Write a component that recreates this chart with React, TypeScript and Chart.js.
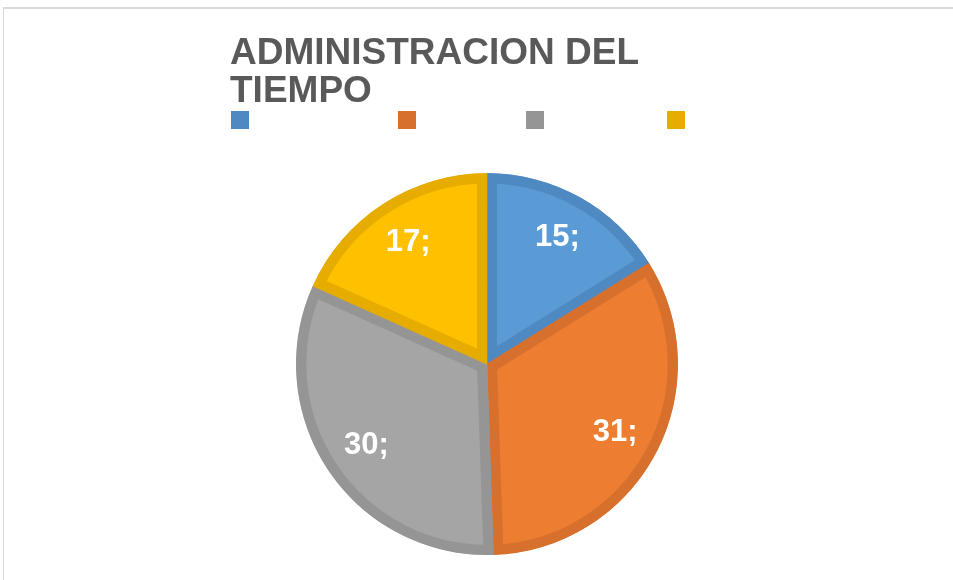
import React, { useEffect, useRef } from 'react';
import { Chart, registerables } from 'chart.js';

Chart.register(...registerables);

// ---- data ----
const CATEGORIES = ['', '', '', ''];
const VALUES = [15, 31, 30, 17];
const TITLE_LINES = ['ADMINISTRACION DEL', 'TIEMPO'];
const LABEL_SUFFIX = ';';

// ---- styles ----
const FILL_COLORS = ['#5B9BD5', '#ED7D31', '#A5A5A5', '#FFC000'];
const BORDER_COLORS = ['#4F89C2', '#D6702C', '#959595', '#E6AC00'];
const FONT = "'Liberation Sans', Arial, sans-serif";

// custom legend: blank labels, swatches only
const LEGEND_SWATCH = 18;
const LEGEND_OFFSETS = [0, 167, 295, 436];
const LEGEND_TOP = 111;

const swatchLegend = {
  id: 'swatchLegend',
  afterDraw(chart: any) {
    const ctx = chart.ctx;
    const left = chart.titleBlock ? chart.titleBlock.left + 1 : chart.chartArea.left;
    ctx.save();
    CATEGORIES.forEach((_, i) => {
      ctx.fillStyle = BORDER_COLORS[i];
      ctx.fillRect(left + LEGEND_OFFSETS[i], LEGEND_TOP, LEGEND_SWATCH, LEGEND_SWATCH);
    });
    ctx.restore();
  },
};

const sliceLabels = {
  id: 'sliceLabels',
  afterDatasetsDraw(chart: any) {
    const ctx = chart.ctx;
    const meta = chart.getDatasetMeta(0);
    ctx.save();
    ctx.fillStyle = '#FFFFFF';
    ctx.font = `bold 31px ${FONT}`;
    ctx.textAlign = 'center';
    ctx.textBaseline = 'middle';
    meta.data.forEach((arc: any, i: number) => {
      const { x, y, startAngle, endAngle, outerRadius } = arc.getProps(
        ['x', 'y', 'startAngle', 'endAngle', 'outerRadius'],
        true
      );
      const mid = (startAngle + endAngle) / 2;
      const r = outerRadius * 0.76;
      ctx.fillText(`${VALUES[i]}${LABEL_SUFFIX}`, x + Math.cos(mid) * r, y + Math.sin(mid) * r);
    });
    ctx.restore();
  },
};

function PieChart() {
  const ref = useRef<HTMLCanvasElement | null>(null);
  useEffect(() => {
    if (!ref.current) return;
    const chart = new Chart(ref.current, {
      type: 'pie',
      data: {
        labels: CATEGORIES,
        datasets: [
          {
            data: VALUES,
            backgroundColor: FILL_COLORS,
            borderColor: BORDER_COLORS,
            borderWidth: 10,
            borderAlign: 'inner',
            borderJoinStyle: 'miter',
            radius: 191,
          } as any,
        ],
      },
      options: {
        responsive: false,
        animation: false,
        events: [],
        layout: { padding: { left: 230, right: 209, top: 0, bottom: 0 } },
        plugins: {
          legend: { display: false },
          tooltip: { enabled: false },
          title: {
            display: true,
            text: TITLE_LINES,
            align: 'start',
            color: '#595959',
            font: { family: FONT, size: 37, weight: 'bold', lineHeight: 1.03 },
            padding: { top: 35, bottom: 37 },
          },
        },
      },
      plugins: [swatchLegend, sliceLabels],
    });
    return () => chart.destroy();
  }, []);
  return <canvas ref={ref} width={953} height={580} style={{ position: 'absolute', left: 0, top: 0 }} />;
}

export default function App() {
  return (
    <div
      style={{
        position: 'absolute',
        left: 0,
        top: 0,
        width: 953,
        height: 580,
        overflow: 'hidden',
        background: '#FFFFFF',
      }}
    >
      <div
        style={{
          position: 'absolute',
          left: 3,
          top: 7,
          width: 2000,
          height: 2000,
          borderTop: '2px solid #DADADA',
          borderLeft: '1px solid #DADADA',
        }}
      />
      <PieChart />
    </div>
  );
}
